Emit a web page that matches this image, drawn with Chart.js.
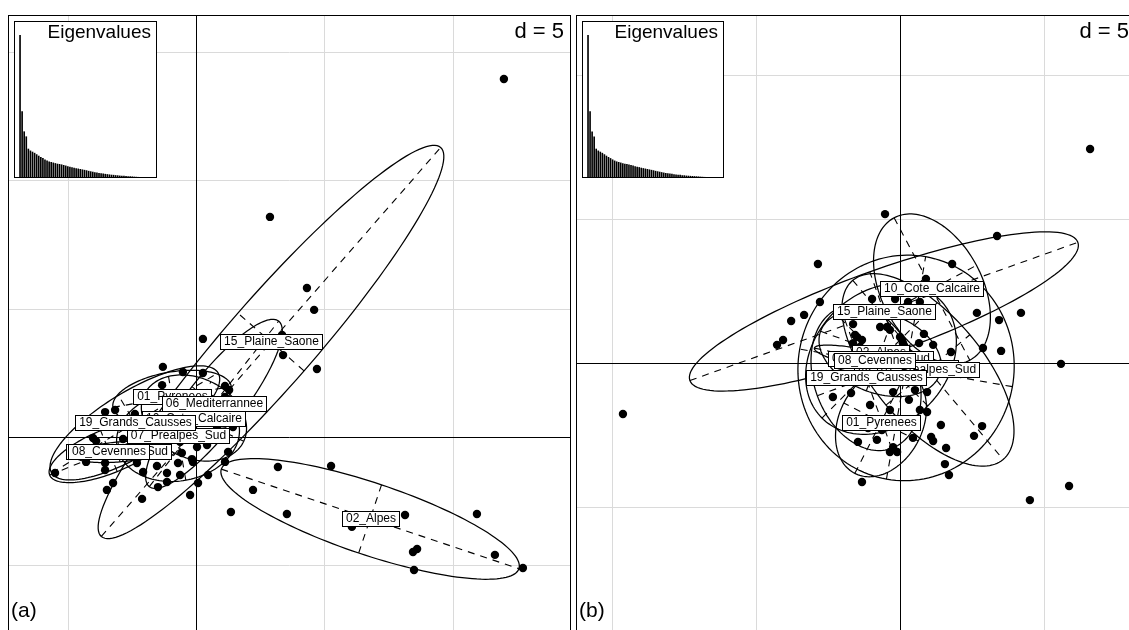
<!DOCTYPE html>
<html>
<head>
<meta charset="utf-8">
<title>Ordination des relevés par région</title>
<script src="https://cdn.jsdelivr.net/npm/chart.js@4.4.0/dist/chart.umd.min.js"></script>
<style>
  html, body { margin: 0; padding: 0; background: #fff; width: 1129px; height: 630px; overflow: hidden; }
  canvas { position: absolute; }
</style>
</head>
<body>
<canvas id="mapA" width="563" height="620" style="left:8px;top:15px"></canvas>
<canvas id="mapB" width="560" height="620" style="left:576px;top:15px"></canvas>
<canvas id="eigA" width="143" height="157" style="left:14px;top:21px"></canvas>
<canvas id="eigB" width="142" height="157" style="left:582px;top:21px"></canvas>
<script>
// ---- data -------------------------------------------------------------
const regions = ['01_Pyrenees', '02_Alpes', '03_Alpes_du_Sud', '06_Mediterrannee', '07_Prealpes_Sud',
                 '08_Cevennes', '10_Cote_Calcaire', '15_Plaine_Saone', '19_Grands_Causses'];

// eigenvalues (relative, first = 100)
const eigenvalues = [100, 46.6, 32.6, 29.1, 20.5, 19.2, 18.4, 17.6, 16.6, 15.6,
  14.7, 13.9, 13.0, 12.2, 11.6, 11.2, 10.8, 10.4, 10.0, 9.8,
  9.5, 9.1, 8.7, 8.3, 7.9, 7.6, 7.2, 6.9, 6.6, 6.3,
  6.0, 5.7, 5.4, 5.0, 4.7, 4.4, 4.1, 3.8, 3.5, 3.3,
  3.1, 2.9, 2.7, 2.5, 2.3, 2.2, 2.0, 1.9, 1.7, 1.6,
  1.5, 1.4, 1.3, 1.2, 1.1, 0.95, 0.85, 0.75, 0.7, 0.65,
  0.6, 0.55, 0.5, 0.45];

// (a) site scores
const sitesAX = [11.99, 2.88, 4.32, 4.60, 4.71, 3.39, 3.35, 0.27, 0.27, 1.13, 1.29, -1.29, -0.51, -1.32,
  -3.54, -3.15, -2.38, -4.01, -3.89, -2.84, -2.06, -5.49, -3.54, -3.23, -3.47, -1.52, -1.13, -1.13,
  -1.48, -2.10, -0.55, -0.16, -0.70, -0.12, -0.62, 0.47, 0.08, -0.23, 1.25, 1.13, 3.19, 2.22, 1.36,
  3.54, 0.04, 0.43, -3.54, -4.28, -0.62, -1.52, -2.30, -2.06, 0.82, 1.44, 8.14, 10.94, 8.45, 8.61,
  11.64, 8.49, 12.73, 6.07, 5.26, 1.13];
const sitesAY = [13.94, 8.57, 5.80, 4.95, 2.65, 3.19, 3.97, 3.82, 2.49, 1.99, 1.83, 2.73, 2.53, 2.02,
  0.97, 1.05, 0.90, -0.04, -0.16, -0.08, -0.04, -1.40, -1.29, -1.79, -2.06, -1.13, -1.40, -1.75,
  -1.95, -2.41, -0.62, -0.86, -1.01, -0.97, -1.48, -1.48, -1.79, -2.26, -0.58, -0.97, -1.17, -2.06, -2.92,
  -3.00, -0.39, -0.31, -1.01, -0.97, -0.19, -0.70, -1.01, -1.36, 0.39, 0.39, -3.04, -3.00, -4.48, -4.36,
  -4.59, -5.18, -5.10, -3.50, -1.13, 1.56];

// (a) class centres and inertia ellipses (semi-axes, angle in degrees)
const centersAX = [-0.93, 6.78, -3.00, 0.70, -0.70, -3.39, -0.08, 2.92, -2.38];
const centersAY = [1.56, -3.19, -0.58, 1.29, 0.04, -0.55, 0.74, 3.70, 0.55];
const majorA = [2.34, 6.11, 1.75, 4.09, 2.41, 2.49, 2.14, 10.05, 3.78];
const minorA = [0.97, 1.40, 0.39, 1.09, 1.75, 0.86, 1.56, 1.71, 1.25];
const angleA = [10, -18.5, 5, 52, 10, 22, -25, 48.9, 31];

// (b) site scores
const sitesBX = [-9.62, 6.60, 4.51, 5.87, -0.52, -2.85, -2.78, -3.33, -3.78, -4.06, -4.27, -0.97, -1.63,
  -1.49, -1.32, -1.63, -0.45, -0.35, -0.17, -2.33, -1.70, -1.04, -0.80, -0.63, -0.35, -0.35, -0.10,
  -1.32, -1.11, 3.37, 1.81, 0.90, 4.20, 2.67, 3.44, 2.88, 3.51, 5.59, 1.77, 0.83, 0.66, 1.15, 0.10,
  0.00, 0.28, 0.69, 0.31, 0.52, 0.94, 0.69, 1.42, 2.85, 2.57, 1.08, 1.15, 1.60, 0.45, 1.56, 1.70,
  -0.69, -1.56, 0.07, -0.24, -1.46, 0.94, -0.24, -1.39];
const sitesBY = [-1.77, 7.43, -4.76, -4.27, 5.17, 3.44, 2.12, 1.67, 1.46, 0.80, 0.63, 2.22, 1.35,
  0.90, 0.80, 0.69, 1.25, 1.15, 2.22, -1.18, -1.04, -1.46, -2.67, -2.33, -1.63, -3.09, -3.09,
  -4.13, -2.26, 4.41, 3.44, 2.92, 1.74, 1.74, 1.49, 0.52, 0.42, -0.03, 0.38, 1.01, 0.69, 0.63, 0.69,
  0.90, 2.12, 2.12, -1.28, -0.94, -1.01, -1.63, -2.15, -2.19, -2.53, -2.57, -2.71, -2.95, -2.60, -3.51, -3.89,
  1.25, 0.97, 0.80, -1.01, -2.74, -1.70, -2.92, 0.56];

// (b) class centres and inertia ellipses
const centersBX = [-0.66, -0.69, -0.66, 0.21, 0.97, -0.87, 1.11, -0.56, -1.18];
const centersBY = [-2.05, 0.35, 0.14, -0.17, -0.24, 0.07, 2.57, 1.79, -0.52];
const majorB = [2.0, 2.2, 2.9, 3.92, 4.06, 2.15, 2.8, 7.15, 2.6];
const minorB = [1.45, 1.4, 2.3, 3.75, 1.9, 0.33, 1.75, 1.46, 1.8];
const angleB = [63, -20, 45, 80, -50, -12, -62, 19.6, -70];

const gridStep = 5;

// ---- drawing ----------------------------------------------------------
const FONT = '"Liberation Sans", Arial, Helvetica, sans-serif';

function drawEllipse(ctx, sx, sy, cx, cy, a, b, deg) {
  const th = deg * Math.PI / 180, c = Math.cos(th), s = Math.sin(th);
  const P = (u, v) => [sx.getPixelForValue(u), sy.getPixelForValue(v)];
  ctx.lineWidth = 1.25;
  ctx.setLineDash([]);
  ctx.beginPath();
  for (let i = 0; i <= 144; i++) {
    const t = i / 144 * 2 * Math.PI;
    const [px, py] = P(cx + a * Math.cos(t) * c - b * Math.sin(t) * s,
                       cy + a * Math.cos(t) * s + b * Math.sin(t) * c);
    if (i === 0) ctx.moveTo(px, py); else ctx.lineTo(px, py);
  }
  ctx.closePath();
  ctx.stroke();
  // dashed principal axes
  ctx.lineWidth = 1.1;
  ctx.setLineDash([7, 6]);
  const seg = (u1, v1, u2, v2) => {
    const [x1, y1] = P(u1, v1), [x2, y2] = P(u2, v2);
    ctx.beginPath(); ctx.moveTo(x1, y1); ctx.lineTo(x2, y2); ctx.stroke();
  };
  seg(cx - a * c, cy - a * s, cx + a * c, cy + a * s);
  seg(cx + b * s, cy - b * c, cx - b * s, cy + b * c);
  ctx.setLineDash([]);
}

function ordinationPlugin(p) {
  return {
    id: 'ordination',
    beforeDatasetsDraw(chart) {
      const { ctx, chartArea: ca, scales: { x, y } } = chart;
      ctx.save();
      ctx.beginPath(); ctx.rect(ca.left, ca.top, ca.right - ca.left, ca.bottom - ca.top); ctx.clip();
      // grid
      ctx.strokeStyle = '#dadada'; ctx.lineWidth = 1;
      for (let v = Math.ceil(x.min / gridStep) * gridStep; v <= x.max; v += gridStep) {
        if (v === 0) continue;
        const px = Math.round(x.getPixelForValue(v)) + 0.5;
        ctx.beginPath(); ctx.moveTo(px, ca.top); ctx.lineTo(px, ca.bottom); ctx.stroke();
      }
      for (let v = Math.ceil(y.min / gridStep) * gridStep; v <= y.max; v += gridStep) {
        if (v === 0) continue;
        const py = Math.round(y.getPixelForValue(v)) + 0.5;
        ctx.beginPath(); ctx.moveTo(ca.left, py); ctx.lineTo(ca.right, py); ctx.stroke();
      }
      // axes through the origin
      ctx.strokeStyle = '#000';
      const x0 = Math.round(x.getPixelForValue(0)) + 0.5, y0 = Math.round(y.getPixelForValue(0)) + 0.5;
      ctx.beginPath(); ctx.moveTo(x0, ca.top); ctx.lineTo(x0, ca.bottom); ctx.stroke();
      ctx.beginPath(); ctx.moveTo(ca.left, y0); ctx.lineTo(ca.right, y0); ctx.stroke();
      // class ellipses
      ctx.strokeStyle = '#000';
      for (let i = 0; i < regions.length; i++) {
        drawEllipse(ctx, x, y, p.cx[i], p.cy[i], p.major[i], p.minor[i], p.angle[i]);
      }
      ctx.restore();
    },
    afterDatasetsDraw(chart) {
      const { ctx, chartArea: ca, scales: { x, y } } = chart;
      ctx.save();
      // class labels at the centres
      ctx.font = '12px ' + FONT;
      ctx.textAlign = 'center'; ctx.textBaseline = 'alphabetic';
      for (let i = 0; i < regions.length; i++) {
        const px = x.getPixelForValue(p.cx[i]), py = y.getPixelForValue(p.cy[i]);
        const w = Math.round(ctx.measureText(regions[i]).width + 7), h = 15;
        const bx = Math.round(px - w / 2) + 0.5, by = Math.round(py - h / 2) + 0.5;
        ctx.fillStyle = '#fff'; ctx.fillRect(bx, by, w, h);
        ctx.strokeStyle = '#000'; ctx.lineWidth = 1; ctx.strokeRect(bx, by, w, h);
        ctx.fillStyle = '#000'; ctx.fillText(regions[i], bx + w / 2, by + 10);
      }
      // frame
      ctx.strokeStyle = '#000'; ctx.lineWidth = 1;
      ctx.strokeRect(ca.left + 0.5, ca.top + 0.5, ca.right - ca.left - 1, ca.bottom - ca.top - 1);
      // grid scale and panel tag
      ctx.font = '22px ' + FONT; ctx.textAlign = 'right';
      ctx.fillText('d = ' + gridStep, ca.right - 7, ca.top + 23);
      ctx.font = '21px ' + FONT; ctx.textAlign = 'left';
      ctx.fillText(p.caption, ca.left + 3, ca.top + 602);
      ctx.restore();
    }
  };
}

function mapChart(p) {
  return new Chart(document.getElementById(p.canvas), {
    type: 'scatter',
    data: {
      datasets: [{
        data: p.sx.map((v, i) => ({ x: v, y: p.sy[i] })),
        backgroundColor: '#000', borderWidth: 0, pointRadius: 4.2, pointHoverRadius: 4.2
      }]
    },
    options: {
      responsive: false, animation: false, events: [],
      layout: { padding: 0, autoPadding: false },
      plugins: { legend: { display: false }, tooltip: { enabled: false } },
      scales: {
        x: { type: 'linear', display: false, min: p.xMin, max: p.xMax },
        y: { type: 'linear', display: false, min: p.yMin, max: p.yMax }
      }
    },
    plugins: [ordinationPlugin(p)]
  });
}

const insetFrame = {
  id: 'insetFrame',
  beforeDraw(chart) {
    const { ctx, width, height } = chart;
    ctx.save(); ctx.fillStyle = '#fff'; ctx.fillRect(0, 0, width, height); ctx.restore();
  },
  afterDraw(chart) {
    const { ctx, width, height } = chart;
    ctx.save();
    ctx.strokeStyle = '#000'; ctx.lineWidth = 1;
    ctx.strokeRect(0.5, 0.5, width - 1, height - 1);
    ctx.fillStyle = '#000'; ctx.font = '19px ' + FONT;
    ctx.textAlign = 'right'; ctx.textBaseline = 'alphabetic';
    ctx.fillText('Eigenvalues', width - 6, 17);
    ctx.restore();
  }
};

function eigenChart(id, padRight) {
  return new Chart(document.getElementById(id), {
    type: 'bar',
    data: {
      labels: eigenvalues.map((_, i) => String(i + 1)),
      datasets: [{ data: eigenvalues, backgroundColor: '#000', borderWidth: 0,
                   barPercentage: 0.8, categoryPercentage: 1 }]
    },
    options: {
      responsive: false, animation: false, events: [],
      layout: { padding: { left: 5, right: padRight, top: 14, bottom: 0 }, autoPadding: false },
      plugins: { legend: { display: false }, tooltip: { enabled: false } },
      scales: { x: { display: false }, y: { display: false, min: 0, max: 100 } }
    },
    plugins: [insetFrame]
  });
}

mapChart({ canvas: 'mapA', xMin: -7.321, xMax: 14.603, yMin: -7.710, yMax: 16.433,
  sx: sitesAX, sy: sitesAY, cx: centersAX, cy: centersAY,
  major: majorA, minor: minorA, angle: angleA, caption: '(a)' });
mapChart({ canvas: 'mapB', xMin: -11.25, xMax: 8.194, yMin: -9.444, yMax: 12.083,
  sx: sitesBX, sy: sitesBY, cx: centersBX, cy: centersBY,
  major: majorB, minor: minorB, angle: angleB, caption: '(b)' });
eigenChart('eigA', 5);
eigenChart('eigB', 6);
</script>
</body>
</html>
